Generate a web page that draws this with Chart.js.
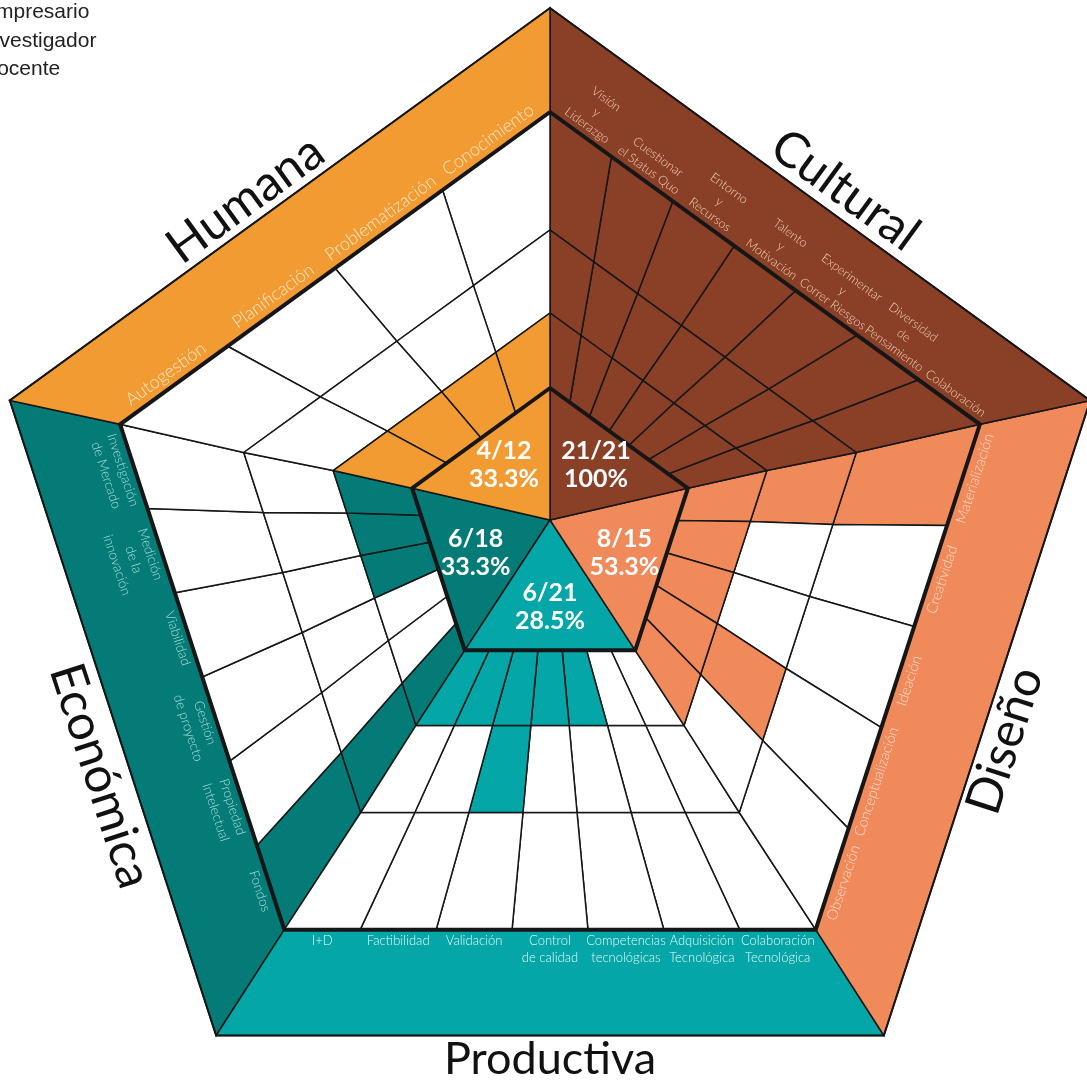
<!DOCTYPE html>
<html>
<head>
<meta charset="utf-8">
<title>Dimensiones de la innovación</title>
<script src="https://cdn.jsdelivr.net/npm/chart.js@4.4.1/dist/chart.umd.min.js"></script>
<style>
  html, body { margin: 0; padding: 0; background: #fff; overflow: hidden; }
  #wrap { width: 1087px; height: 1083px; }
</style>
</head>
<body>
<div id="wrap"><canvas id="chart" width="1087" height="1083"></canvas></div>
<script>
// niveles, de menor a mayor
const levels = ['Docente', 'Investigador', 'Empresario'];
const dimensions = ['Humana', 'Cultural', 'Diseño', 'Productiva', 'Económica'];

const humanaItems = ['Autogestión', 'Planificación', 'Problematización', 'Conocimiento'];
const humanaScores = [1, 1, 1, 1];

const culturalItems = ['Visión\ny\nLiderazgo', 'Cuestionar\nel Status Quo', 'Entorno\ny\nRecursos',
  'Talento\ny\nMotivación', 'Experimentar\ny\nCorrer Riesgos', 'Diversidad\nde\nPensamiento', 'Colaboración'];
const culturalScores = [3, 3, 3, 3, 3, 3, 3];

const disenoItems = ['Observación', 'Conceptualización', 'Ideación', 'Creatividad', 'Materialización'];
const disenoScores = [1, 2, 1, 1, 3];

const productivaItems = ['I+D', 'Factibilidad', 'Validación', 'Control\nde calidad',
  'Competencias\ntecnológicas', 'Adquisición\nTecnológica', 'Colaboración\nTecnológica'];
const productivaScores = [1, 1, 2, 1, 1, 0, 0];

const economicaItems = ['Investigación\nde Mercado', 'Medición\nde la\ninnovación', 'Viabilidad',
  'Gestión\nde proyecto', 'Propiedad\nIntelectual', 'Fondos'];
const economicaScores = [1, 1, 1, 0, 0, 3];

// ---- layout ----
const CX = 550;
const HUB = { x: 550, y: 520 };
// pentagonos: interior, anillo 1, anillo 2, anillo 3, borde exterior
const RING_R = [145, 228, 322, 452, 568];
const RING_CY = [533, 541, 552, 564, 576];
// vertice inicial -> vertice final de cada dimension (0 arriba, en sentido horario)
const EDGES = [[4, 0], [0, 1], [2, 1], [3, 2], [4, 3]];
// posicion del titulo: [desplazamiento a lo largo del borde, hacia fuera]
const TITLE_POS = [[-25, 24], [12, 26], [-16, 24], [0, 24], [51, 30]];
const TITLE_SIZE = [49, 49, 49, 45, 49];

const dims = [
  { items: humanaItems, scores: humanaScores, color: '#F39B33', text: '#FDE6C4', size: 18 },
  { items: culturalItems, scores: culturalScores, color: '#8A3F27', text: '#F4CCB6', size: 12.5 },
  { items: disenoItems, scores: disenoScores, color: '#F08A5B', text: '#FCDCCB', size: 14.5 },
  { items: productivaItems, scores: productivaScores, color: '#04A6A8', text: '#E8F8F8', size: 13 },
  { items: economicaItems, scores: economicaScores, color: '#047B77', text: '#A6DDD8', size: 13.5 }
];

function vertex(ring, v) {
  const a = (-90 + 72 * v) * Math.PI / 180;
  return { x: CX + RING_R[ring] * Math.cos(a), y: RING_CY[ring] + RING_R[ring] * Math.sin(a) };
}
function ringPoint(ring, s, t) {
  const A = vertex(ring, EDGES[s][0]), B = vertex(ring, EDGES[s][1]);
  return { x: A.x + (B.x - A.x) * t, y: A.y + (B.y - A.y) * t };
}
function shape(points, fillColor, width, order) {
  return {
    data: points.concat([points[0]]),
    showLine: true,
    fill: fillColor ? 'shape' : false,
    backgroundColor: fillColor || 'transparent',
    borderColor: '#161616',
    borderWidth: width,
    borderJoinStyle: 'miter',
    pointRadius: 0,
    pointHoverRadius: 0,
    tension: 0,
    clip: false,
    order: order
  };
}
function ringOutline(ring, width) {
  const pts = [0, 1, 2, 3, 4].map(v => vertex(ring, v));
  return shape(pts, null, width, 1);
}

const datasets = [];
dims.forEach((d, s) => {
  const n = d.items.length;
  datasets.push(shape([HUB, ringPoint(0, s, 0), ringPoint(0, s, 1)], d.color, 1.5, 3));
  for (let j = 0; j < n; j++) {
    for (let k = 1; k <= levels.length; k++) {
      const filled = d.scores[j] >= k;
      datasets.push(shape([
        ringPoint(k - 1, s, j / n), ringPoint(k - 1, s, (j + 1) / n),
        ringPoint(k, s, (j + 1) / n), ringPoint(k, s, j / n)
      ], filled ? d.color : '#ffffff', 1.5, 3));
    }
  }
  datasets.push(shape([ringPoint(3, s, 0), ringPoint(3, s, 1), ringPoint(4, s, 1), ringPoint(4, s, 0)], d.color, 1.5, 3));
});
datasets.push(ringOutline(0, 4), ringOutline(3, 4), ringOutline(4, 2));

function pct(score, total) {
  const p = Math.floor(score / total * 1000) / 10;
  return (Number.isInteger(p) ? p.toFixed(0) : p.toFixed(1)) + '%';
}

const textPlugin = {
  id: 'textos',
  afterDatasetsDraw(chart) {
    const ctx = chart.ctx;
    const px = p => ({ x: chart.scales.x.getPixelForValue(p.x), y: chart.scales.y.getPixelForValue(p.y) });
    const hub = px(HUB);

    function rotText(str, p, ang) {
      ctx.save();
      ctx.translate(p.x, p.y);
      ctx.rotate(ang);
      ctx.fillText(str, 0, 0);
      ctx.restore();
    }

    dims.forEach((d, s) => {
      const A = px(ringPoint(3, s, 0)), B = px(ringPoint(3, s, 1));
      const ux = B.x - A.x, uy = B.y - A.y, len = Math.hypot(ux, uy);
      const u = { x: ux / len, y: uy / len };
      const ang = Math.atan2(u.y, u.x);
      const mid = { x: (A.x + B.x) / 2, y: (A.y + B.y) / 2 };
      let nrm = { x: -u.y, y: u.x };
      if ((mid.x - hub.x) * nrm.x + (mid.y - hub.y) * nrm.y < 0) nrm = { x: u.y, y: -u.x };
      const down = { x: -Math.sin(ang), y: Math.cos(ang) };
      const outward = down.x * nrm.x + down.y * nrm.y > 0;

      // nombres de los criterios
      ctx.fillStyle = d.text;
      ctx.font = '300 ' + d.size + 'px Lato, "Open Sans", sans-serif';
      ctx.textAlign = 'center';
      ctx.textBaseline = 'middle';
      const n = d.items.length;
      d.items.forEach((label, j) => {
        const t = (j + 0.5) / n;
        const p = { x: A.x + ux * t, y: A.y + uy * t };
        const lines = label.split('\n');
        const lh = d.size * 1.3;
        lines.forEach((ln, i) => {
          const k = outward ? i : lines.length - 1 - i;
          const off = d.size * 0.55 + 4 + k * lh;
          rotText(ln, { x: p.x + nrm.x * off, y: p.y + nrm.y * off }, ang);
        });
      });

      // titulo de la dimension
      const OA = px(ringPoint(4, s, 0)), OB = px(ringPoint(4, s, 1));
      const om = { x: (OA.x + OB.x) / 2, y: (OA.y + OB.y) / 2 };
      const [along, out] = TITLE_POS[s];
      ctx.fillStyle = '#111';
      ctx.font = '400 ' + TITLE_SIZE[s] + 'px Lato, "Open Sans", sans-serif';
      rotText(dimensions[s], { x: om.x + u.x * along + nrm.x * out, y: om.y + u.y * along + nrm.y * out }, ang);

      // puntaje en el centro
      const total = n * levels.length;
      const score = d.scores.reduce((a, b) => a + b, 0);
      const c0 = px(ringPoint(0, s, 0)), c1 = px(ringPoint(0, s, 1));
      const cx = (hub.x + c0.x + c1.x) / 3, cy = (hub.y + c0.y + c1.y) / 3;
      ctx.fillStyle = '#ffffff';
      ctx.font = '700 25px Lato, "Open Sans", sans-serif';
      ctx.fillText(score + '/' + total, cx, cy - 14);
      ctx.fillText(pct(score, total), cx, cy + 14);
    });

    // leyenda de niveles
    ctx.fillStyle = '#222';
    ctx.font = '21px "Liberation Sans", Arial, sans-serif';
    ctx.textAlign = 'left';
    ctx.textBaseline = 'alphabetic';
    levels.slice().reverse().forEach((lv, i) => {
      ctx.fillText(lv, -18, 18 + i * 28.5);
    });
  }
};

new Chart(document.getElementById('chart'), {
  type: 'scatter',
  data: { datasets: datasets },
  options: {
    responsive: false,
    animation: false,
    events: [],
    layout: { padding: 0 },
    scales: {
      x: { type: 'linear', min: 0, max: 1087, display: false },
      y: { type: 'linear', min: 0, max: 1083, reverse: true, display: false }
    },
    plugins: {
      legend: { display: false },
      tooltip: { enabled: false }
    }
  },
  plugins: [textPlugin]
});
</script>
</body>
</html>
